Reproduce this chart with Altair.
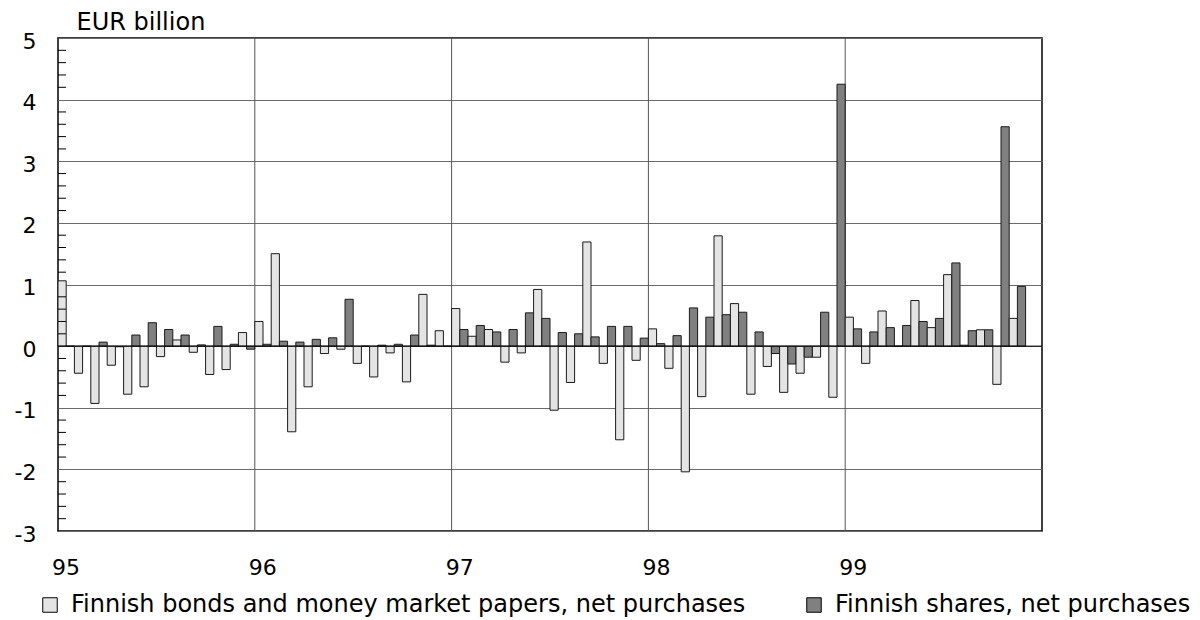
import altair as alt
import pandas as pd

# Monthly data, Jan 1995 .. Nov 1999 (EUR billion)
years = ["95", "96", "97", "98", "99"]
bonds = [
    1.06, -0.44, -0.93, -0.31, -0.78, -0.66, -0.17, 0.10, -0.10, -0.46, -0.38, 0.22,
    0.40, 1.50, -1.39, -0.66, -0.12, -0.05, -0.28, -0.50, -0.11, -0.58, 0.84, 0.25,
    0.61, 0.16, 0.27, -0.26, -0.11, 0.92, -1.04, -0.59, 1.69, -0.28, -1.52, -0.23,
    0.28, -0.36, -2.04, -0.82, 1.79, 0.69, -0.78, -0.33, -0.75, -0.44, -0.18, -0.83,
    0.47, -0.28, 0.57, 0.00, 0.74, 0.30, 1.16, 0.015, 0.265, -0.62, 0.45,
]
shares = [
    0.00, 0.00, 0.065, -0.01, 0.18, 0.38, 0.27, 0.18, 0.02, 0.32, 0.03, -0.05,
    0.03, 0.08, 0.065, 0.11, 0.135, 0.76, 0.00, 0.015, 0.03, 0.18, 0.015, 0.00,
    0.27, 0.335, 0.23, 0.27, 0.54, 0.45, 0.22, 0.20, 0.15, 0.32, 0.32, 0.13,
    0.04, 0.17, 0.62, 0.47, 0.51, 0.55, 0.23, -0.12, -0.29, -0.18, 0.55, 4.25,
    0.28, 0.23, 0.30, 0.335, 0.40, 0.45, 1.35, 0.25, 0.265, 3.56, 0.97,
]
series_names = [
    "Finnish bonds and money market papers, net purchases",
    "Finnish shares, net purchases",
]

rows = []
for i, (b, s) in enumerate(zip(bonds, shares)):
    rows.append({"series": series_names[0], "x0": i, "x1": i + 0.5, "v": b})
    rows.append({"series": series_names[1], "x0": i + 0.5, "x1": i + 1, "v": s})
df = pd.DataFrame(rows)

minor = [round(-3 + 0.2 * k, 1) for k in range(41)]
minor = [m for m in minor if abs(m - round(m)) > 1e-6]
minor_df = pd.DataFrame({"m": minor})
zero_df = pd.DataFrame({"z": [0]})
year_df = pd.DataFrame({"t": [12, 24, 36, 48]})

FONT = "DejaVu Sans"
W, H = 984, 493

xscale = alt.Scale(domain=[0, 60], nice=False, zero=False)
yscale = alt.Scale(domain=[-3, 5], nice=False)

bars = alt.Chart(df).mark_bar(stroke="#1a1a1a", strokeWidth=1).encode(
    x=alt.X(
        "x0:Q",
        scale=xscale,
        axis=alt.Axis(
            values=[0.46, 12.46, 24.46, 36.46, 48.46],
            labelExpr="['95','96','97','98','99'][floor(datum.value/12)]",
            title=None,
            grid=False,
            ticks=False,
            domain=False,
            labelFontSize=22,
            labelFont=FONT,
            labelColor="black",
            labelBaseline="middle",
            labelPadding=36,
        ),
    ),
    x2="x1:Q",
    y=alt.Y(
        "v:Q",
        scale=yscale,
        axis=alt.Axis(
            values=[-3, -2, -1, 0, 1, 2, 3, 4, 5],
            labelExpr="datum.value < 0 ? '-' + abs(datum.value) : '' + datum.value",
            title="EUR billion",
            titleAngle=0,
            titleX=18,
            titleY=-9,
            titleAlign="left",
            titleBaseline="alphabetic",
            titleFont=FONT,
            titleFontSize=24,
            titleFontWeight="normal",
            titleColor="black",
            grid=True,
            gridColor="#6a6a6a",
            gridWidth=1,
            ticks=False,
            domain=False,
            labelFontSize=22,
            labelFont=FONT,
            labelColor="black",
            labelPadding=22,
            labelOffset=3,
        ),
    ),
    y2=alt.Y2(datum=0),
    color=alt.Color(
        "series:N",
        scale=alt.Scale(domain=series_names, range=["#e4e4e4", "#808080"]),
        legend=alt.Legend(
            title=None,
            orient="none",
            legendX=-20,
            legendY=555,
            padding=0,
            direction="horizontal",
            symbolType="square",
            symbolSize=210,
            symbolStrokeColor="black",
            symbolStrokeWidth=1,
            symbolOpacity=1,
            labelFont=FONT,
            labelFontSize=24,
            labelColor="black",
            labelOffset=9,
            columnPadding=56,
            labelLimit=900,
        ),
    ),
)

vgrid = alt.Chart(year_df).mark_rule(color="#555555", strokeWidth=1).encode(
    x=alt.X("t:Q", scale=xscale)
)

minor_ticks = alt.Chart(minor_df).mark_rule(color="black", strokeWidth=1).encode(
    x=alt.value(0), x2=alt.value(8), y=alt.Y("m:Q", scale=yscale)
)

zero_line = alt.Chart(zero_df).mark_rule(color="black", strokeWidth=1).encode(
    y=alt.Y("z:Q", scale=yscale)
)

chart = (
    alt.layer(vgrid, bars, zero_line, minor_ticks)
    .properties(
        width=W,
        height=H,
        background="white",
        autosize=alt.AutoSizeParams(type="none"),
        padding={"left": 50, "top": 30, "right": 150, "bottom": 90},
    )
    .configure_view(stroke="black", strokeWidth=1.5)
)

chart.save("out.html", embed_options={"renderer": "svg", "actions": False})
